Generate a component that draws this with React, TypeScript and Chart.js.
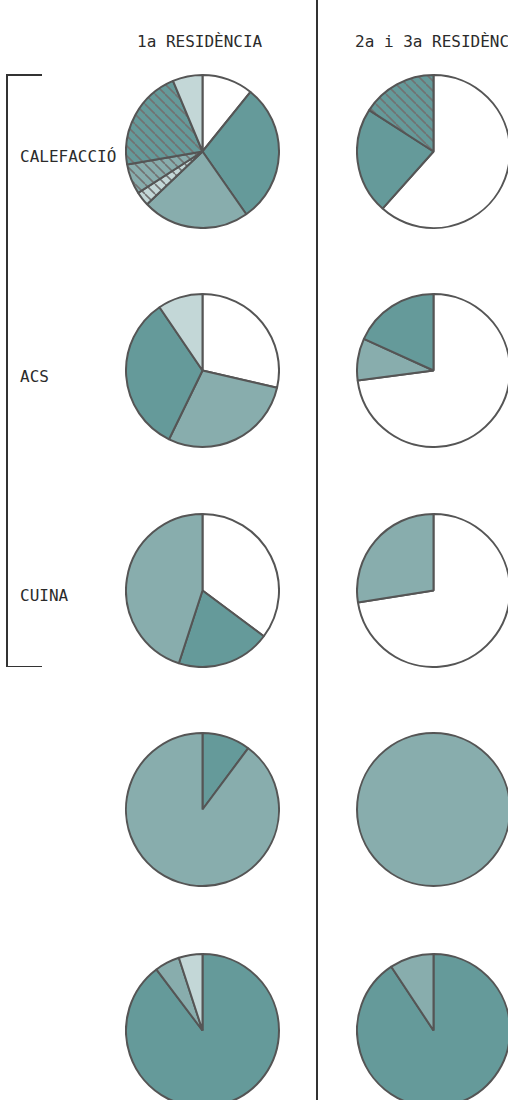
import React, { useEffect, useRef } from 'react';
import { Chart, registerables } from 'chart.js';

Chart.register(...registerables);

// ---- Data -------------------------------------------------------------
const columnTitles = ['1a RESIDÈNCIA', '2a i 3a RESIDÈNCIA'];
const rowLabels = ['CALEFACCIÓ', 'ACS', 'CUINA'];

// categories (energy sources); "(mixt)" ones are drawn hatched
const calefaccio1Sources = ['Font A', 'Font B', 'Font C', 'Font D (mixt)', 'Font C (mixt)', 'Font B (mixt)', 'Font D'];
const calefaccio1Values = [10.8, 29.5, 22.6, 3.0, 6.4, 21.4, 6.3];

const calefaccio2Sources = ['Font A', 'Font B', 'Font B (mixt)'];
const calefaccio2Values = [61.6, 22.5, 15.9];

const acs1Sources = ['Font A', 'Font C', 'Font B', 'Font D'];
const acs1Values = [28.6, 28.6, 33.3, 9.5];

const acs2Sources = ['Font A', 'Font C', 'Font B'];
const acs2Values = [72.9, 8.9, 18.2];

const cuina1Sources = ['Font A', 'Font B', 'Font C'];
const cuina1Values = [35.2, 19.8, 45.0];

const cuina2Sources = ['Font A', 'Font C'];
const cuina2Values = [72.5, 27.5];

const fila4Col1Sources = ['Font B', 'Font C'];
const fila4Col1Values = [10.2, 89.8];

const fila4Col2Sources = ['Font C'];
const fila4Col2Values = [100];

const fila5Col1Sources = ['Font B', 'Font C', 'Font D'];
const fila5Col1Values = [89.7, 5.3, 5.0];

const fila5Col2Sources = ['Font B', 'Font C'];
const fila5Col2Values = [90.7, 9.3];

// ---- Styles -----------------------------------------------------------
const DARK = '#659a9a';
const MEDIUM = '#88adad';
const LIGHT = '#c3d7d7';
const WHITE = '#ffffff';
const BORDER = '#555555';
const HATCH = '#727272';
const FONT = '"DejaVu Sans Mono", monospace';

function makeHatch(base: string): CanvasPattern | string {
  const s = 10;
  const c = document.createElement('canvas');
  c.width = s;
  c.height = s;
  const ctx = c.getContext('2d');
  if (!ctx) return base;
  ctx.fillStyle = base;
  ctx.fillRect(0, 0, s, s);
  ctx.strokeStyle = HATCH;
  ctx.lineWidth = 1.6;
  for (const k of [-1, 0, 1]) {
    ctx.beginPath();
    ctx.moveTo(0, k * s);
    ctx.lineTo(s, s + k * s);
    ctx.stroke();
  }
  const p = ctx.createPattern(c, 'repeat');
  return p || base;
}

function fillFor(source: string): CanvasPattern | string {
  const hatched = source.includes('(mixt)');
  let base = WHITE;
  if (source.startsWith('Font B')) base = DARK;
  else if (source.startsWith('Font C')) base = MEDIUM;
  else if (source.startsWith('Font D')) base = LIGHT;
  return hatched ? makeHatch(base) : base;
}

const outlinePlugin = {
  id: 'fullOutline',
  afterDatasetsDraw(chart: any) {
    const ds = chart.data.datasets[0];
    if (!ds || ds.data.length !== 1) return;
    const arc: any = chart.getDatasetMeta(0).data[0];
    if (!arc) return;
    const ctx = chart.ctx;
    ctx.save();
    ctx.beginPath();
    ctx.arc(arc.x, arc.y, arc.outerRadius, 0, Math.PI * 2);
    ctx.strokeStyle = BORDER;
    ctx.lineWidth = 2;
    ctx.stroke();
    ctx.restore();
  },
};

const SIZE = 155;

function Pie({ sources, values, cx, cy }: { sources: string[]; values: number[]; cx: number; cy: number }) {
  const ref = useRef<HTMLCanvasElement | null>(null);
  useEffect(() => {
    if (!ref.current) return;
    const single = values.length === 1;
    const chart = new Chart(ref.current, {
      type: 'pie',
      data: {
        labels: sources,
        datasets: [
          {
            data: values,
            backgroundColor: sources.map(fillFor) as any,
            borderColor: single ? 'rgba(0,0,0,0)' : BORDER,
            borderWidth: 2,
            offset: 0,
            hoverOffset: 0,
          } as any,
        ],
      },
      options: {
        responsive: false,
        maintainAspectRatio: false,
        animation: false,
        events: [],
        layout: { padding: 0 },
        plugins: { legend: { display: false }, tooltip: { enabled: false } },
      },
      plugins: [outlinePlugin],
    });
    return () => chart.destroy();
  }, [sources, values]);
  return (
    <canvas
      ref={ref}
      width={SIZE}
      height={SIZE}
      style={{ position: 'absolute', left: cx - SIZE / 2, top: cy - SIZE / 2, width: SIZE, height: SIZE }}
    />
  );
}

const colX = [202, 433.3];
const rowY = [151, 370.5, 590.3, 809.7, 1030];

const pies: { s: string[]; v: number[]; r: number; c: number }[] = [
  { s: calefaccio1Sources, v: calefaccio1Values, r: 0, c: 0 },
  { s: calefaccio2Sources, v: calefaccio2Values, r: 0, c: 1 },
  { s: acs1Sources, v: acs1Values, r: 1, c: 0 },
  { s: acs2Sources, v: acs2Values, r: 1, c: 1 },
  { s: cuina1Sources, v: cuina1Values, r: 2, c: 0 },
  { s: cuina2Sources, v: cuina2Values, r: 2, c: 1 },
  { s: fila4Col1Sources, v: fila4Col1Values, r: 3, c: 0 },
  { s: fila4Col2Sources, v: fila4Col2Values, r: 3, c: 1 },
  { s: fila5Col1Sources, v: fila5Col1Values, r: 4, c: 0 },
  { s: fila5Col2Sources, v: fila5Col2Values, r: 4, c: 1 },
];

const textStyle: React.CSSProperties = {
  position: 'absolute',
  fontFamily: FONT,
  fontSize: 16,
  lineHeight: '20px',
  color: '#2b2b2b',
  whiteSpace: 'nowrap',
};

export default function App() {
  return (
    <div
      style={{
        position: 'absolute',
        left: 0,
        top: 0,
        width: 508,
        height: 1100,
        overflow: 'hidden',
        background: '#fff',
      }}
    >
      {/* column divider */}
      <div style={{ position: 'absolute', left: 316, top: 0, width: 1.6, height: 1100, background: '#333' }} />
      {/* bracket */}
      <div style={{ position: 'absolute', left: 6, top: 74, width: 1.6, height: 593, background: '#333' }} />
      <div style={{ position: 'absolute', left: 6, top: 74, width: 36, height: 1.6, background: '#333' }} />
      <div style={{ position: 'absolute', left: 6, top: 665.5, width: 36, height: 1.6, background: '#333' }} />

      {/* column titles */}
      <div style={{ ...textStyle, left: 137, top: 32 }}>{columnTitles[0]}</div>
      <div style={{ ...textStyle, left: 355, top: 32 }}>{columnTitles[1]}</div>

      {/* row labels */}
      {rowLabels.map((l, i) => (
        <div key={l} style={{ ...textStyle, left: 20, top: rowY[i] - 4 }}>
          {l}
        </div>
      ))}

      {pies.map((p, i) => (
        <Pie key={i} sources={p.s} values={p.v} cx={colX[p.c]} cy={rowY[p.r]} />
      ))}
    </div>
  );
}
